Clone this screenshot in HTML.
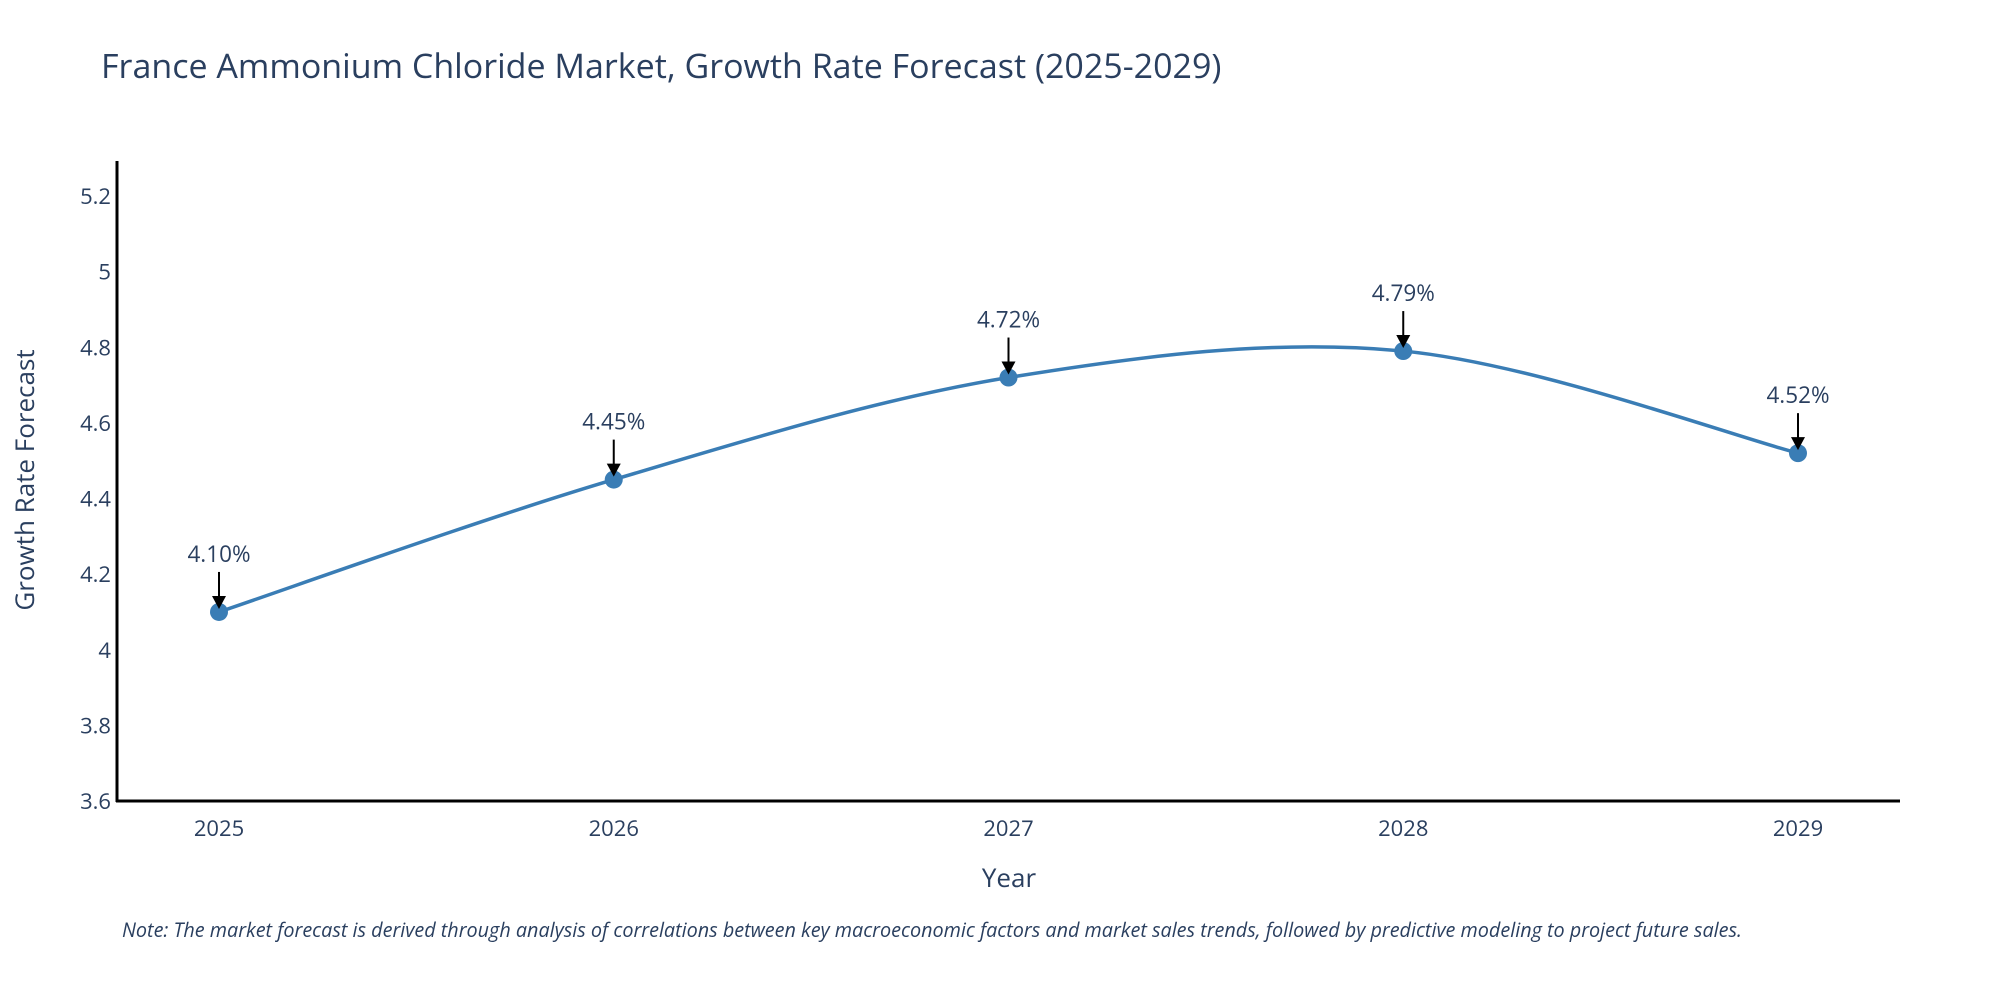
<!DOCTYPE html>
<html><head><meta charset="utf-8"><style>
body{margin:0;background:#fff;}
svg{font-family:"Open Sans","Liberation Sans",sans-serif;}
</style></head><body>
<svg width="2000" height="1000">
<text x="101" y="78" font-size="34" fill="#2a3f5f">France Ammonium Chloride Market, Growth Rate Forecast (2025-2029)</text>
<g id="yticks"></g>
<g id="xticks"></g>
<path id="line" fill="none" stroke="#3a7db5" stroke-width="3.5"/>
<g id="pts"></g>
<g id="ann"></g>
<line x1="117" y1="161" x2="117" y2="802" stroke="#000" stroke-width="3"/>
<line x1="116" y1="801" x2="1900" y2="801" stroke="#000" stroke-width="3"/>
<text transform="translate(34,480) rotate(-90)" text-anchor="middle" font-size="26" fill="#2a3f5f">Growth Rate Forecast</text>
<text x="1009" y="887" text-anchor="middle" font-size="26" fill="#2a3f5f">Year</text>
<text x="122" y="937" font-size="19.8" font-style="italic" fill="#2a3f5f">Note: The market forecast is derived through analysis of correlations between key macroeconomic factors and market sales trends, followed by predictive modeling to project future sales.</text>
</svg>
<script>
const years=[2025,2026,2027,2028,2029];
const values=[4.10,4.45,4.72,4.79,4.52];
const labels=["4.10%","4.45%","4.72%","4.79%","4.52%"];
const yTicks=[3.6,3.8,4,4.2,4.4,4.6,4.8,5,5.2];
const NS="http://www.w3.org/2000/svg";
const xs=y=>219+(y-2025)*394.75;
const ys=v=>801-(v-3.6)*378.1;
function mk(t,a,p){const e=document.createElementNS(NS,t);for(const k in a)e.setAttribute(k,a[k]);p.appendChild(e);return e;}
const yt=document.getElementById('yticks');
yTicks.forEach(v=>{const t=mk('text',{x:111,y:ys(v)+8,'text-anchor':'end','font-size':22,fill:'#2a3f5f'},yt);


t.textContent=String(v);});
const xt=document.getElementById('xticks');
years.forEach(y=>{const t=mk('text',{x:xs(y),y:836,'text-anchor':'middle','font-size':22,fill:'#2a3f5f'},xt);


t.textContent=String(y);});
const P=years.map((y,i)=>[xs(y),ys(values[i])]);
let d=`M${P[0][0]},${P[0][1]}`;
for(let i=0;i<P.length-1;i++){const p0=P[i-1]||P[i],p1=P[i],p2=P[i+1],p3=P[i+2]||P[i+1];
const c1=[p1[0]+(p2[0]-p0[0])/6,p1[1]+(p2[1]-p0[1])/6],c2=[p2[0]-(p3[0]-p1[0])/6,p2[1]-(p3[1]-p1[1])/6];
d+=` C${c1[0]},${c1[1]} ${c2[0]},${c2[1]} ${p2[0]},${p2[1]}`;}
document.getElementById('line').setAttribute('d',d);
const pts=document.getElementById('pts'),ann=document.getElementById('ann');
P.forEach((p,i)=>{const c=mk('circle',{cx:p[0],cy:p[1],r:9,fill:'#3a7db5'},pts);


const l=mk('line',{x1:p[0],y1:p[1]-40,x2:p[0],y2:p[1]-14,stroke:'#000','stroke-width':2},ann);


const a=mk('polygon',{points:`${p[0]-7},${p[1]-16} ${p[0]+7},${p[1]-16} ${p[0]},${p[1]-3}`,fill:'#000'},ann);


const t=mk('text',{x:p[0],y:p[1]-50,'text-anchor':'middle','font-size':22.5,fill:'#2a3f5f'},ann);


t.textContent=labels[i];});
</script>
</body></html>
